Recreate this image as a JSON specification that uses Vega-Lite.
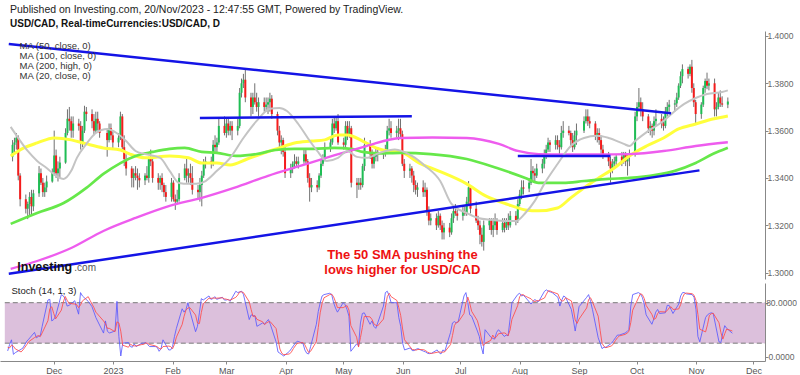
{
"$schema": "https://vega.github.io/schema/vega-lite/v6.json",
"background": "white",
"padding": {"left": 0, "right": 0, "top": 4, "bottom": 0},
"config": {"view": {"stroke": null}, "font": "Liberation Sans", "axis": {"grid": false}},
"title": {"text": "Published on Investing.com, 20/Nov/2023 - 12:47:55 GMT, Powered by TradingView.", "subtitle": "USD/CAD, Real-timeCurrencies:USD/CAD, D", "anchor": "start", "dx": 10, "fontSize": 10.5, "fontWeight": "normal", "color": "#222", "subtitleFontSize": 10, "subtitleFontWeight": "bold", "subtitleColor": "#111", "subtitlePadding": 4, "offset": 2, "font": "Liberation Sans", "subtitleFont": "Liberation Sans"},
"resolve": {"scale": {"stroke": "independent", "fill": "independent", "strokeWidth": "independent", "x": "independent", "y": "independent"}, "legend": {"stroke": "independent"}},
"datasets": {
"px": [
{"d":"2022-11-07","o":1.3490,"h":1.3560,"l":1.3470,"c":1.3540,"k":8.5,"s":14},
{"d":"2022-11-08","o":1.3540,"h":1.3570,"l":1.3500,"c":1.3550,"k":18,"s":13},
{"d":"2022-11-09","o":1.3550,"h":1.3590,"l":1.3520,"c":1.3570,"k":25,"s":17},
{"d":"2022-11-10","o":1.3570,"h":1.3580,"l":1.3390,"c":1.3410,"k":3.5,"s":15.5},
{"d":"2022-11-11","o":1.3410,"h":1.3420,"l":1.3280,"c":1.3310,"k":6,"s":11.5},
{"d":"2022-11-14","o":1.3310,"h":1.3330,"l":1.3250,"c":1.3270,"k":11,"s":7},
{"d":"2022-11-15","o":1.3270,"h":1.3300,"l":1.3226,"c":1.3290,"k":13,"s":10},
{"d":"2022-11-16","o":1.3290,"h":1.3340,"l":1.3235,"c":1.3320,"k":18,"s":14},
{"d":"2022-11-17","o":1.3320,"h":1.3350,"l":1.3240,"c":1.3280,"k":23,"s":18},
{"d":"2022-11-18","o":1.3280,"h":1.3350,"l":1.3260,"c":1.3335,"k":26,"s":22.3},
{"d":"2022-11-21","o":1.3335,"h":1.3450,"l":1.3320,"c":1.3420,"k":36,"s":28.3},
{"d":"2022-11-22","o":1.3420,"h":1.3440,"l":1.3370,"c":1.3380,"k":28,"s":30},
{"d":"2022-11-23","o":1.3380,"h":1.3400,"l":1.3320,"c":1.3340,"k":30,"s":31.3},
{"d":"2022-11-24","o":1.3340,"h":1.3380,"l":1.3320,"c":1.3360,"k":31,"s":29.7},
{"d":"2022-11-25","o":1.3360,"h":1.3410,"l":1.3340,"c":1.3385,"k":45,"s":35.3},
{"d":"2022-11-28","o":1.3385,"h":1.3440,"l":1.3380,"c":1.3425,"k":84,"s":53.3},
{"d":"2022-11-29","o":1.3425,"h":1.3600,"l":1.3410,"c":1.3495,"k":85,"s":71.3},
{"d":"2022-11-30","o":1.3495,"h":1.3520,"l":1.3400,"c":1.3420,"k":53,"s":74},
{"d":"2022-12-01","o":1.3420,"h":1.3470,"l":1.3385,"c":1.3440,"k":55,"s":64.3},
{"d":"2022-12-02","o":1.3440,"h":1.3490,"l":1.3400,"c":1.3465,"k":60,"s":56},
{"d":"2022-12-05","o":1.3465,"h":1.3610,"l":1.3460,"c":1.3590,"k":92,"s":69},
{"d":"2022-12-06","o":1.3590,"h":1.3690,"l":1.3580,"c":1.3650,"k":90,"s":80.7},
{"d":"2022-12-07","o":1.3650,"h":1.3700,"l":1.3600,"c":1.3640,"k":86,"s":89.3},
{"d":"2022-12-08","o":1.3640,"h":1.3660,"l":1.3570,"c":1.3600,"k":75,"s":83.7},
{"d":"2022-12-09","o":1.3600,"h":1.3660,"l":1.3570,"c":1.3630,"k":76,"s":79},
{"d":"2022-12-12","o":1.3630,"h":1.3650,"l":1.3600,"c":1.3620,"k":83,"s":78},
{"d":"2022-12-13","o":1.3620,"h":1.3640,"l":1.3520,"c":1.3550,"k":72,"s":77},
{"d":"2022-12-14","o":1.3550,"h":1.3620,"l":1.3530,"c":1.3600,"k":63,"s":72.7},
{"d":"2022-12-15","o":1.3600,"h":1.3705,"l":1.3590,"c":1.3680,"k":95,"s":76.7},
{"d":"2022-12-16","o":1.3680,"h":1.3700,"l":1.3640,"c":1.3670,"k":90,"s":82.7},
{"d":"2022-12-19","o":1.3670,"h":1.3690,"l":1.3610,"c":1.3640,"k":82,"s":89},
{"d":"2022-12-20","o":1.3640,"h":1.3670,"l":1.3580,"c":1.3600,"k":78,"s":83.3},
{"d":"2022-12-21","o":1.3600,"h":1.3680,"l":1.3590,"c":1.3650,"k":74,"s":78},
{"d":"2022-12-22","o":1.3650,"h":1.3680,"l":1.3600,"c":1.3630,"k":66,"s":72.7},
{"d":"2022-12-23","o":1.3630,"h":1.3640,"l":1.3570,"c":1.3590,"k":58,"s":66},
{"d":"2022-12-27","o":1.3590,"h":1.3610,"l":1.3490,"c":1.3560,"k":35,"s":53},
{"d":"2022-12-28","o":1.3560,"h":1.3630,"l":1.3550,"c":1.3610,"k":53,"s":48.7},
{"d":"2022-12-29","o":1.3610,"h":1.3630,"l":1.3560,"c":1.3580,"k":38,"s":42},
{"d":"2022-12-30","o":1.3580,"h":1.3600,"l":1.3520,"c":1.3550,"k":35,"s":42},
{"d":"2023-01-02","o":1.3550,"h":1.3590,"l":1.3530,"c":1.3570,"k":38,"s":37},
{"d":"2023-01-03","o":1.3570,"h":1.3680,"l":1.3560,"c":1.3660,"k":82,"s":51.7},
{"d":"2023-01-04","o":1.3660,"h":1.3670,"l":1.3520,"c":1.3530,"k":30,"s":50},
{"d":"2023-01-05","o":1.3530,"h":1.3580,"l":1.3450,"c":1.3480,"k":1,"s":37.7},
{"d":"2023-01-06","o":1.3480,"h":1.3500,"l":1.3410,"c":1.3440,"k":20,"s":17},
{"d":"2023-01-09","o":1.3440,"h":1.3450,"l":1.3360,"c":1.3400,"k":21,"s":14},
{"d":"2023-01-10","o":1.3400,"h":1.3440,"l":1.3360,"c":1.3420,"k":15,"s":18.7},
{"d":"2023-01-11","o":1.3420,"h":1.3450,"l":1.3390,"c":1.3410,"k":14,"s":16.7},
{"d":"2023-01-12","o":1.3410,"h":1.3440,"l":1.3350,"c":1.3400,"k":19,"s":16},
{"d":"2023-01-13","o":1.3400,"h":1.3420,"l":1.3360,"c":1.3390,"k":15,"s":16},
{"d":"2023-01-16","o":1.3390,"h":1.3420,"l":1.3370,"c":1.3410,"k":20,"s":18},
{"d":"2023-01-17","o":1.3410,"h":1.3450,"l":1.3390,"c":1.3400,"k":20,"s":18.3},
{"d":"2023-01-18","o":1.3400,"h":1.3490,"l":1.3380,"c":1.3480,"k":21,"s":20.3},
{"d":"2023-01-19","o":1.3480,"h":1.3520,"l":1.3450,"c":1.3470,"k":18,"s":19.7},
{"d":"2023-01-20","o":1.3470,"h":1.3490,"l":1.3380,"c":1.3400,"k":15,"s":18},
{"d":"2023-01-23","o":1.3400,"h":1.3420,"l":1.3350,"c":1.3380,"k":15,"s":16},
{"d":"2023-01-24","o":1.3380,"h":1.3410,"l":1.3350,"c":1.3400,"k":14,"s":14.7},
{"d":"2023-01-25","o":1.3400,"h":1.3420,"l":1.3340,"c":1.3370,"k":8,"s":12.3},
{"d":"2023-01-26","o":1.3370,"h":1.3380,"l":1.3320,"c":1.3340,"k":12,"s":11.3},
{"d":"2023-01-27","o":1.3340,"h":1.3370,"l":1.3300,"c":1.3320,"k":25,"s":15},
{"d":"2023-01-30","o":1.3320,"h":1.3400,"l":1.3300,"c":1.3380,"k":10,"s":15.7},
{"d":"2023-01-31","o":1.3380,"h":1.3390,"l":1.3300,"c":1.3310,"k":10,"s":15},
{"d":"2023-02-01","o":1.3310,"h":1.3330,"l":1.3265,"c":1.3300,"k":15,"s":11.7},
{"d":"2023-02-02","o":1.3300,"h":1.3350,"l":1.3290,"c":1.3310,"k":30,"s":18.3},
{"d":"2023-02-03","o":1.3310,"h":1.3420,"l":1.3300,"c":1.3400,"k":42,"s":29},
{"d":"2023-02-06","o":1.3400,"h":1.3460,"l":1.3390,"c":1.3440,"k":71,"s":47.7},
{"d":"2023-02-07","o":1.3440,"h":1.3480,"l":1.3380,"c":1.3410,"k":66,"s":59.7},
{"d":"2023-02-08","o":1.3410,"h":1.3440,"l":1.3380,"c":1.3420,"k":70,"s":69},
{"d":"2023-02-09","o":1.3420,"h":1.3460,"l":1.3370,"c":1.3400,"k":80,"s":72},
{"d":"2023-02-10","o":1.3400,"h":1.3450,"l":1.3330,"c":1.3350,"k":68,"s":72.7},
{"d":"2023-02-13","o":1.3350,"h":1.3370,"l":1.3310,"c":1.3340,"k":37,"s":61.7},
{"d":"2023-02-14","o":1.3340,"h":1.3400,"l":1.3300,"c":1.3370,"k":45,"s":50},
{"d":"2023-02-15","o":1.3370,"h":1.3430,"l":1.3280,"c":1.3410,"k":65,"s":49},
{"d":"2023-02-16","o":1.3410,"h":1.3480,"l":1.3400,"c":1.3460,"k":86,"s":65.3},
{"d":"2023-02-17","o":1.3460,"h":1.3490,"l":1.3440,"c":1.3470,"k":84,"s":78.3},
{"d":"2023-02-20","o":1.3470,"h":1.3490,"l":1.3440,"c":1.3460,"k":90,"s":86.7},
{"d":"2023-02-21","o":1.3460,"h":1.3560,"l":1.3450,"c":1.3540,"k":85,"s":86.3},
{"d":"2023-02-22","o":1.3540,"h":1.3580,"l":1.3510,"c":1.3530,"k":86,"s":87},
{"d":"2023-02-23","o":1.3530,"h":1.3570,"l":1.3510,"c":1.3550,"k":89,"s":86.7},
{"d":"2023-02-24","o":1.3550,"h":1.3650,"l":1.3540,"c":1.3620,"k":85,"s":86.7},
{"d":"2023-02-27","o":1.3620,"h":1.3660,"l":1.3580,"c":1.3590,"k":88,"s":87.3},
{"d":"2023-02-28","o":1.3590,"h":1.3650,"l":1.3570,"c":1.3630,"k":84,"s":85.7},
{"d":"2023-03-01","o":1.3630,"h":1.3650,"l":1.3580,"c":1.3600,"k":84,"s":85.3},
{"d":"2023-03-02","o":1.3600,"h":1.3640,"l":1.3580,"c":1.3620,"k":85,"s":84.3},
{"d":"2023-03-03","o":1.3620,"h":1.3640,"l":1.3560,"c":1.3600,"k":82,"s":83.7},
{"d":"2023-03-06","o":1.3600,"h":1.3650,"l":1.3580,"c":1.3620,"k":97,"s":88},
{"d":"2023-03-07","o":1.3620,"h":1.3780,"l":1.3610,"c":1.3760,"k":95,"s":91.3},
{"d":"2023-03-08","o":1.3760,"h":1.3820,"l":1.3740,"c":1.3800,"k":96,"s":96},
{"d":"2023-03-09","o":1.3800,"h":1.3840,"l":1.3780,"c":1.3815,"k":97,"s":96},
{"d":"2023-03-10","o":1.3815,"h":1.3860,"l":1.3720,"c":1.3740,"k":92,"s":95},
{"d":"2023-03-13","o":1.3740,"h":1.3760,"l":1.3660,"c":1.3700,"k":55,"s":81.3},
{"d":"2023-03-14","o":1.3700,"h":1.3760,"l":1.3670,"c":1.3740,"k":62,"s":69.7},
{"d":"2023-03-15","o":1.3740,"h":1.3800,"l":1.3710,"c":1.3720,"k":61,"s":59.3},
{"d":"2023-03-16","o":1.3720,"h":1.3760,"l":1.3680,"c":1.3700,"k":60,"s":61},
{"d":"2023-03-17","o":1.3700,"h":1.3740,"l":1.3660,"c":1.3720,"k":45,"s":55.3},
{"d":"2023-03-20","o":1.3720,"h":1.3740,"l":1.3680,"c":1.3700,"k":50,"s":51.7},
{"d":"2023-03-21","o":1.3700,"h":1.3740,"l":1.3680,"c":1.3710,"k":48,"s":47.7},
{"d":"2023-03-22","o":1.3710,"h":1.3740,"l":1.3670,"c":1.3720,"k":52,"s":50},
{"d":"2023-03-23","o":1.3720,"h":1.3760,"l":1.3680,"c":1.3735,"k":55,"s":51.7},
{"d":"2023-03-24","o":1.3735,"h":1.3750,"l":1.3650,"c":1.3670,"k":48,"s":51.7},
{"d":"2023-03-27","o":1.3670,"h":1.3680,"l":1.3580,"c":1.3600,"k":22,"s":41.7},
{"d":"2023-03-28","o":1.3600,"h":1.3620,"l":1.3530,"c":1.3550,"k":7,"s":25.7},
{"d":"2023-03-29","o":1.3550,"h":1.3580,"l":1.3500,"c":1.3560,"k":5,"s":11.3},
{"d":"2023-03-30","o":1.3560,"h":1.3570,"l":1.3490,"c":1.3510,"k":3,"s":5},
{"d":"2023-03-31","o":1.3510,"h":1.3530,"l":1.3400,"c":1.3420,"k":1,"s":3},
{"d":"2023-04-03","o":1.3420,"h":1.3460,"l":1.3400,"c":1.3440,"k":8,"s":4},
{"d":"2023-04-04","o":1.3440,"h":1.3470,"l":1.3420,"c":1.3460,"k":12,"s":7},
{"d":"2023-04-05","o":1.3460,"h":1.3500,"l":1.3440,"c":1.3470,"k":16,"s":12},
{"d":"2023-04-06","o":1.3470,"h":1.3490,"l":1.3450,"c":1.3460,"k":20,"s":16},
{"d":"2023-04-07","o":1.3460,"h":1.3490,"l":1.3440,"c":1.3470,"k":23,"s":19.7},
{"d":"2023-04-10","o":1.3470,"h":1.3520,"l":1.3460,"c":1.3500,"k":20,"s":21},
{"d":"2023-04-11","o":1.3500,"h":1.3520,"l":1.3460,"c":1.3470,"k":10,"s":17.7},
{"d":"2023-04-12","o":1.3470,"h":1.3480,"l":1.3380,"c":1.3400,"k":5,"s":11.7},
{"d":"2023-04-13","o":1.3400,"h":1.3420,"l":1.3300,"c":1.3360,"k":4,"s":6.3},
{"d":"2023-04-14","o":1.3360,"h":1.3400,"l":1.3340,"c":1.3370,"k":15,"s":8},
{"d":"2023-04-17","o":1.3370,"h":1.3390,"l":1.3340,"c":1.3360,"k":48,"s":22.3},
{"d":"2023-04-18","o":1.3360,"h":1.3420,"l":1.3350,"c":1.3410,"k":67,"s":43.3},
{"d":"2023-04-19","o":1.3410,"h":1.3480,"l":1.3400,"c":1.3460,"k":80,"s":65},
{"d":"2023-04-20","o":1.3460,"h":1.3500,"l":1.3450,"c":1.3480,"k":90,"s":79},
{"d":"2023-04-21","o":1.3480,"h":1.3550,"l":1.3470,"c":1.3530,"k":92,"s":87.3},
{"d":"2023-04-24","o":1.3530,"h":1.3570,"l":1.3510,"c":1.3550,"k":94,"s":92},
{"d":"2023-04-25","o":1.3550,"h":1.3650,"l":1.3540,"c":1.3630,"k":92,"s":92.7},
{"d":"2023-04-26","o":1.3630,"h":1.3660,"l":1.3590,"c":1.3610,"k":80,"s":88.7},
{"d":"2023-04-27","o":1.3610,"h":1.3660,"l":1.3600,"c":1.3640,"k":72,"s":81.3},
{"d":"2023-04-28","o":1.3640,"h":1.3670,"l":1.3540,"c":1.3550,"k":66,"s":72.7},
{"d":"2023-05-01","o":1.3550,"h":1.3570,"l":1.3520,"c":1.3540,"k":80,"s":72.7},
{"d":"2023-05-02","o":1.3540,"h":1.3640,"l":1.3530,"c":1.3620,"k":77,"s":74.3},
{"d":"2023-05-03","o":1.3620,"h":1.3640,"l":1.3560,"c":1.3580,"k":70,"s":75.7},
{"d":"2023-05-04","o":1.3580,"h":1.3640,"l":1.3570,"c":1.3610,"k":60,"s":69},
{"d":"2023-05-05","o":1.3610,"h":1.3620,"l":1.3360,"c":1.3380,"k":8,"s":46},
{"d":"2023-05-08","o":1.3380,"h":1.3400,"l":1.3315,"c":1.3370,"k":19,"s":29},
{"d":"2023-05-09","o":1.3370,"h":1.3400,"l":1.3350,"c":1.3380,"k":16,"s":14.3},
{"d":"2023-05-10","o":1.3380,"h":1.3400,"l":1.3350,"c":1.3370,"k":50,"s":28.3},
{"d":"2023-05-11","o":1.3370,"h":1.3460,"l":1.3360,"c":1.3450,"k":64,"s":43.3},
{"d":"2023-05-12","o":1.3450,"h":1.3570,"l":1.3430,"c":1.3540,"k":65,"s":59.7},
{"d":"2023-05-15","o":1.3540,"h":1.3560,"l":1.3480,"c":1.3500,"k":48,"s":59},
{"d":"2023-05-16","o":1.3500,"h":1.3520,"l":1.3440,"c":1.3460,"k":53,"s":55.3},
{"d":"2023-05-17","o":1.3460,"h":1.3510,"l":1.3440,"c":1.3490,"k":45,"s":48.7},
{"d":"2023-05-18","o":1.3490,"h":1.3530,"l":1.3470,"c":1.3510,"k":42,"s":46.7},
{"d":"2023-05-19","o":1.3510,"h":1.3530,"l":1.3470,"c":1.3500,"k":50,"s":45.7},
{"d":"2023-05-22","o":1.3500,"h":1.3520,"l":1.3480,"c":1.3510,"k":75,"s":55.7},
{"d":"2023-05-23","o":1.3510,"h":1.3540,"l":1.3490,"c":1.3520,"k":95,"s":73.3},
{"d":"2023-05-24","o":1.3520,"h":1.3620,"l":1.3510,"c":1.3600,"k":97,"s":89},
{"d":"2023-05-25","o":1.3600,"h":1.3650,"l":1.3580,"c":1.3610,"k":90,"s":94},
{"d":"2023-05-26","o":1.3610,"h":1.3640,"l":1.3570,"c":1.3590,"k":80,"s":89},
{"d":"2023-05-29","o":1.3590,"h":1.3620,"l":1.3570,"c":1.3600,"k":80,"s":83.3},
{"d":"2023-05-30","o":1.3600,"h":1.3650,"l":1.3560,"c":1.3610,"k":58,"s":72.7},
{"d":"2023-05-31","o":1.3610,"h":1.3650,"l":1.3570,"c":1.3585,"k":45,"s":61},
{"d":"2023-06-01","o":1.3585,"h":1.3600,"l":1.3450,"c":1.3460,"k":20,"s":41},
{"d":"2023-06-02","o":1.3460,"h":1.3480,"l":1.3400,"c":1.3430,"k":10,"s":25},
{"d":"2023-06-05","o":1.3430,"h":1.3460,"l":1.3400,"c":1.3440,"k":13,"s":14.3},
{"d":"2023-06-06","o":1.3440,"h":1.3450,"l":1.3380,"c":1.3410,"k":9,"s":10.7},
{"d":"2023-06-07","o":1.3410,"h":1.3430,"l":1.3340,"c":1.3370,"k":9,"s":10.3},
{"d":"2023-06-08","o":1.3370,"h":1.3390,"l":1.3330,"c":1.3350,"k":11,"s":9.7},
{"d":"2023-06-09","o":1.3350,"h":1.3380,"l":1.3320,"c":1.3360,"k":12,"s":10.7},
{"d":"2023-06-12","o":1.3360,"h":1.3390,"l":1.3320,"c":1.3340,"k":8,"s":10.3},
{"d":"2023-06-13","o":1.3340,"h":1.3380,"l":1.3320,"c":1.3350,"k":7,"s":9},
{"d":"2023-06-14","o":1.3350,"h":1.3360,"l":1.3240,"c":1.3260,"k":5,"s":6.7},
{"d":"2023-06-15","o":1.3260,"h":1.3280,"l":1.3200,"c":1.3220,"k":4.5,"s":5.5},
{"d":"2023-06-16","o":1.3220,"h":1.3250,"l":1.3200,"c":1.3230,"k":5,"s":4.8},
{"d":"2023-06-19","o":1.3230,"h":1.3250,"l":1.3180,"c":1.3200,"k":10,"s":6.5},
{"d":"2023-06-20","o":1.3200,"h":1.3260,"l":1.3190,"c":1.3240,"k":6,"s":7},
{"d":"2023-06-21","o":1.3240,"h":1.3250,"l":1.3180,"c":1.3200,"k":4,"s":6.7},
{"d":"2023-06-22","o":1.3200,"h":1.3220,"l":1.3140,"c":1.3170,"k":10,"s":6.7},
{"d":"2023-06-23","o":1.3170,"h":1.3210,"l":1.3140,"c":1.3190,"k":8,"s":7.3},
{"d":"2023-06-26","o":1.3190,"h":1.3210,"l":1.3150,"c":1.3170,"k":36,"s":18},
{"d":"2023-06-27","o":1.3170,"h":1.3250,"l":1.3160,"c":1.3230,"k":50,"s":31.3},
{"d":"2023-06-28","o":1.3230,"h":1.3280,"l":1.3210,"c":1.3260,"k":52,"s":46},
{"d":"2023-06-29","o":1.3260,"h":1.3290,"l":1.3240,"c":1.3250,"k":50,"s":50.7},
{"d":"2023-06-30","o":1.3250,"h":1.3270,"l":1.3220,"c":1.3240,"k":52,"s":51.3},
{"d":"2023-07-03","o":1.3240,"h":1.3280,"l":1.3220,"c":1.3260,"k":90,"s":64},
{"d":"2023-07-04","o":1.3260,"h":1.3280,"l":1.3240,"c":1.3250,"k":95,"s":79},
{"d":"2023-07-05","o":1.3250,"h":1.3320,"l":1.3240,"c":1.3300,"k":80,"s":88.3},
{"d":"2023-07-06","o":1.3300,"h":1.3387,"l":1.3290,"c":1.3360,"k":62,"s":79},
{"d":"2023-07-07","o":1.3360,"h":1.3370,"l":1.3250,"c":1.3270,"k":60,"s":67.3},
{"d":"2023-07-10","o":1.3270,"h":1.3300,"l":1.3210,"c":1.3220,"k":38,"s":53.3},
{"d":"2023-07-11","o":1.3220,"h":1.3240,"l":1.3180,"c":1.3200,"k":30,"s":42.7},
{"d":"2023-07-12","o":1.3200,"h":1.3220,"l":1.3120,"c":1.3160,"k":15,"s":27.7},
{"d":"2023-07-13","o":1.3160,"h":1.3190,"l":1.3110,"c":1.3130,"k":4,"s":16.3},
{"d":"2023-07-14","o":1.3130,"h":1.3220,"l":1.3093,"c":1.3200,"k":40,"s":19.7},
{"d":"2023-07-17","o":1.3200,"h":1.3230,"l":1.3180,"c":1.3220,"k":29,"s":24.3},
{"d":"2023-07-18","o":1.3220,"h":1.3230,"l":1.3160,"c":1.3180,"k":27,"s":32},
{"d":"2023-07-19","o":1.3180,"h":1.3230,"l":1.3150,"c":1.3200,"k":26,"s":27.3},
{"d":"2023-07-20","o":1.3200,"h":1.3250,"l":1.3180,"c":1.3220,"k":36,"s":29.7},
{"d":"2023-07-21","o":1.3220,"h":1.3230,"l":1.3160,"c":1.3180,"k":40,"s":34},
{"d":"2023-07-24","o":1.3180,"h":1.3230,"l":1.3170,"c":1.3210,"k":30,"s":35.3},
{"d":"2023-07-25","o":1.3210,"h":1.3230,"l":1.3170,"c":1.3190,"k":32,"s":34},
{"d":"2023-07-26","o":1.3190,"h":1.3230,"l":1.3180,"c":1.3220,"k":31,"s":31},
{"d":"2023-07-27","o":1.3220,"h":1.3250,"l":1.3180,"c":1.3200,"k":55,"s":39.3},
{"d":"2023-07-28","o":1.3200,"h":1.3260,"l":1.3190,"c":1.3240,"k":80,"s":55.3},
{"d":"2023-07-31","o":1.3240,"h":1.3260,"l":1.3200,"c":1.3220,"k":92,"s":75.7},
{"d":"2023-08-01","o":1.3220,"h":1.3310,"l":1.3210,"c":1.3290,"k":94,"s":88.7},
{"d":"2023-08-02","o":1.3290,"h":1.3350,"l":1.3280,"c":1.3330,"k":90,"s":92},
{"d":"2023-08-03","o":1.3330,"h":1.3390,"l":1.3310,"c":1.3360,"k":91,"s":91.7},
{"d":"2023-08-04","o":1.3360,"h":1.3390,"l":1.3330,"c":1.3355,"k":88,"s":89.7},
{"d":"2023-08-07","o":1.3355,"h":1.3400,"l":1.3340,"c":1.3380,"k":78,"s":85.7},
{"d":"2023-08-08","o":1.3380,"h":1.3480,"l":1.3370,"c":1.3430,"k":82,"s":82.7},
{"d":"2023-08-09","o":1.3430,"h":1.3450,"l":1.3390,"c":1.3420,"k":85,"s":81.7},
{"d":"2023-08-10","o":1.3420,"h":1.3440,"l":1.3380,"c":1.3410,"k":82,"s":83},
{"d":"2023-08-11","o":1.3410,"h":1.3460,"l":1.3400,"c":1.3440,"k":82,"s":83},
{"d":"2023-08-14","o":1.3440,"h":1.3480,"l":1.3420,"c":1.3460,"k":97,"s":87},
{"d":"2023-08-15","o":1.3460,"h":1.3520,"l":1.3440,"c":1.3500,"k":99,"s":92.7},
{"d":"2023-08-16","o":1.3500,"h":1.3540,"l":1.3480,"c":1.3520,"k":97,"s":97.7},
{"d":"2023-08-17","o":1.3520,"h":1.3570,"l":1.3510,"c":1.3550,"k":96,"s":97.3},
{"d":"2023-08-18","o":1.3550,"h":1.3560,"l":1.3510,"c":1.3540,"k":95,"s":96},
{"d":"2023-08-21","o":1.3540,"h":1.3580,"l":1.3520,"c":1.3560,"k":88,"s":93},
{"d":"2023-08-22","o":1.3560,"h":1.3580,"l":1.3520,"c":1.3540,"k":75,"s":86},
{"d":"2023-08-23","o":1.3540,"h":1.3560,"l":1.3500,"c":1.3530,"k":84,"s":82.3},
{"d":"2023-08-24","o":1.3530,"h":1.3620,"l":1.3520,"c":1.3590,"k":90,"s":83},
{"d":"2023-08-25","o":1.3590,"h":1.3640,"l":1.3570,"c":1.3600,"k":88,"s":87.3},
{"d":"2023-08-28","o":1.3600,"h":1.3620,"l":1.3580,"c":1.3590,"k":70,"s":82.7},
{"d":"2023-08-29","o":1.3590,"h":1.3600,"l":1.3530,"c":1.3560,"k":55,"s":71},
{"d":"2023-08-30","o":1.3560,"h":1.3590,"l":1.3510,"c":1.3530,"k":38,"s":54.3},
{"d":"2023-08-31","o":1.3530,"h":1.3600,"l":1.3520,"c":1.3580,"k":55,"s":49.3},
{"d":"2023-09-01","o":1.3580,"h":1.3630,"l":1.3540,"c":1.3600,"k":74,"s":55.7},
{"d":"2023-09-05","o":1.3600,"h":1.3660,"l":1.3590,"c":1.3640,"k":88,"s":72.3},
{"d":"2023-09-06","o":1.3640,"h":1.3690,"l":1.3630,"c":1.3660,"k":92,"s":84.7},
{"d":"2023-09-07","o":1.3660,"h":1.3690,"l":1.3620,"c":1.3640,"k":82,"s":87.3},
{"d":"2023-09-08","o":1.3640,"h":1.3660,"l":1.3610,"c":1.3630,"k":70,"s":81.3},
{"d":"2023-09-11","o":1.3630,"h":1.3640,"l":1.3560,"c":1.3580,"k":28,"s":60},
{"d":"2023-09-12","o":1.3580,"h":1.3610,"l":1.3550,"c":1.3590,"k":20,"s":39.3},
{"d":"2023-09-13","o":1.3590,"h":1.3610,"l":1.3540,"c":1.3560,"k":12,"s":20},
{"d":"2023-09-14","o":1.3560,"h":1.3580,"l":1.3500,"c":1.3520,"k":14,"s":15.3},
{"d":"2023-09-15","o":1.3520,"h":1.3540,"l":1.3480,"c":1.3500,"k":14,"s":13.3},
{"d":"2023-09-18","o":1.3500,"h":1.3510,"l":1.3450,"c":1.3470,"k":20,"s":16},
{"d":"2023-09-19","o":1.3470,"h":1.3490,"l":1.3380,"c":1.3440,"k":24,"s":19.3},
{"d":"2023-09-20","o":1.3440,"h":1.3480,"l":1.3420,"c":1.3460,"k":28,"s":24},
{"d":"2023-09-21","o":1.3460,"h":1.3490,"l":1.3440,"c":1.3470,"k":32,"s":28},
{"d":"2023-09-22","o":1.3470,"h":1.3500,"l":1.3450,"c":1.3490,"k":32,"s":30.7},
{"d":"2023-09-25","o":1.3490,"h":1.3510,"l":1.3450,"c":1.3470,"k":35,"s":33},
{"d":"2023-09-26","o":1.3470,"h":1.3510,"l":1.3460,"c":1.3500,"k":37,"s":34.7},
{"d":"2023-09-27","o":1.3500,"h":1.3510,"l":1.3450,"c":1.3470,"k":40,"s":37.3},
{"d":"2023-09-28","o":1.3470,"h":1.3500,"l":1.3410,"c":1.3490,"k":75,"s":50.7},
{"d":"2023-09-29","o":1.3490,"h":1.3520,"l":1.3450,"c":1.3500,"k":92,"s":69},
{"d":"2023-10-02","o":1.3500,"h":1.3680,"l":1.3490,"c":1.3660,"k":95,"s":87.3},
{"d":"2023-10-03","o":1.3660,"h":1.3720,"l":1.3640,"c":1.3700,"k":93,"s":93.3},
{"d":"2023-10-04","o":1.3700,"h":1.3780,"l":1.3680,"c":1.3720,"k":88,"s":92},
{"d":"2023-10-05","o":1.3720,"h":1.3740,"l":1.3660,"c":1.3690,"k":78,"s":86.3},
{"d":"2023-10-06","o":1.3690,"h":1.3720,"l":1.3640,"c":1.3660,"k":62,"s":76},
{"d":"2023-10-09","o":1.3660,"h":1.3670,"l":1.3590,"c":1.3610,"k":48,"s":62.7},
{"d":"2023-10-10","o":1.3610,"h":1.3640,"l":1.3580,"c":1.3620,"k":56,"s":55.3},
{"d":"2023-10-11","o":1.3620,"h":1.3630,"l":1.3570,"c":1.3600,"k":66,"s":56.7},
{"d":"2023-10-12","o":1.3600,"h":1.3660,"l":1.3580,"c":1.3640,"k":70,"s":64},
{"d":"2023-10-13","o":1.3640,"h":1.3690,"l":1.3620,"c":1.3650,"k":64,"s":66.7},
{"d":"2023-10-16","o":1.3650,"h":1.3670,"l":1.3610,"c":1.3630,"k":65,"s":66.3},
{"d":"2023-10-17","o":1.3630,"h":1.3660,"l":1.3600,"c":1.3620,"k":76,"s":68.3},
{"d":"2023-10-18","o":1.3620,"h":1.3700,"l":1.3610,"c":1.3680,"k":76,"s":72.3},
{"d":"2023-10-19","o":1.3680,"h":1.3720,"l":1.3660,"c":1.3700,"k":70,"s":74},
{"d":"2023-10-20","o":1.3700,"h":1.3730,"l":1.3680,"c":1.3710,"k":64,"s":70},
{"d":"2023-10-23","o":1.3710,"h":1.3730,"l":1.3680,"c":1.3715,"k":78,"s":70.7},
{"d":"2023-10-24","o":1.3715,"h":1.3760,"l":1.3700,"c":1.3740,"k":90,"s":77.3},
{"d":"2023-10-25","o":1.3740,"h":1.3800,"l":1.3730,"c":1.3790,"k":95,"s":87.7},
{"d":"2023-10-26","o":1.3790,"h":1.3850,"l":1.3780,"c":1.3830,"k":95,"s":93.3},
{"d":"2023-10-27","o":1.3830,"h":1.3880,"l":1.3800,"c":1.3860,"k":93,"s":94.3},
{"d":"2023-10-30","o":1.3860,"h":1.3870,"l":1.3820,"c":1.3840,"k":92,"s":93.3},
{"d":"2023-10-31","o":1.3840,"h":1.3880,"l":1.3830,"c":1.3870,"k":88,"s":91},
{"d":"2023-11-01","o":1.3870,"h":1.3899,"l":1.3760,"c":1.3780,"k":70,"s":83.3},
{"d":"2023-11-02","o":1.3780,"h":1.3800,"l":1.3700,"c":1.3720,"k":30,"s":62.7},
{"d":"2023-11-03","o":1.3720,"h":1.3730,"l":1.3628,"c":1.3670,"k":22,"s":40.7},
{"d":"2023-11-06","o":1.3670,"h":1.3720,"l":1.3650,"c":1.3710,"k":58,"s":36.7},
{"d":"2023-11-07","o":1.3710,"h":1.3790,"l":1.3700,"c":1.3780,"k":62,"s":47.3},
{"d":"2023-11-08","o":1.3780,"h":1.3820,"l":1.3760,"c":1.3810,"k":64,"s":61.3},
{"d":"2023-11-09","o":1.3810,"h":1.3845,"l":1.3775,"c":1.3790,"k":65,"s":63.7},
{"d":"2023-11-10","o":1.3790,"h":1.3820,"l":1.3770,"c":1.3800,"k":64,"s":64.3},
{"d":"2023-11-13","o":1.3800,"h":1.3820,"l":1.3660,"c":1.3690,"k":22,"s":50.3},
{"d":"2023-11-14","o":1.3690,"h":1.3720,"l":1.3660,"c":1.3700,"k":21,"s":35.7},
{"d":"2023-11-15","o":1.3700,"h":1.3760,"l":1.3690,"c":1.3740,"k":35,"s":26},
{"d":"2023-11-16","o":1.3740,"h":1.3770,"l":1.3700,"c":1.3715,"k":46,"s":34},
{"d":"2023-11-17","o":1.3715,"h":1.3745,"l":1.3700,"c":1.3710,"k":42,"s":41},
{"d":"2023-11-20","o":1.3710,"h":1.3740,"l":1.3695,"c":1.3723,"k":34.7427,"s":38.0514}
],
"ma": [
{"s":"50","d":"2022-11-06","v":1.3493},{"s":"50","d":"2022-11-13","v":1.3527},{"s":"50","d":"2022-11-20","v":1.3548},{"s":"50","d":"2022-11-29","v":1.3569},{"s":"50","d":"2022-12-08","v":1.3561},{"s":"50","d":"2022-12-16","v":1.3544},{"s":"50","d":"2022-12-25","v":1.3527},{"s":"50","d":"2023-01-03","v":1.3518},{"s":"50","d":"2023-01-08","v":1.3501},{"s":"50","d":"2023-01-16","v":1.3485},{"s":"50","d":"2023-01-29","v":1.3493},{"s":"50","d":"2023-02-08","v":1.3485},{"s":"50","d":"2023-02-15","v":1.3463},{"s":"50","d":"2023-02-23","v":1.3463},{"s":"50","d":"2023-03-02","v":1.3455},{"s":"50","d":"2023-03-11","v":1.3480},{"s":"50","d":"2023-03-20","v":1.3506},{"s":"50","d":"2023-03-28","v":1.3527},{"s":"50","d":"2023-04-05","v":1.3548},{"s":"50","d":"2023-04-14","v":1.3556},{"s":"50","d":"2023-04-21","v":1.3561},{"s":"50","d":"2023-04-28","v":1.3582},{"s":"50","d":"2023-05-03","v":1.3582},{"s":"50","d":"2023-05-11","v":1.3556},{"s":"50","d":"2023-05-18","v":1.3527},{"s":"50","d":"2023-05-24","v":1.3514},{"s":"50","d":"2023-05-31","v":1.3510},{"s":"50","d":"2023-06-10","v":1.3463},{"s":"50","d":"2023-06-20","v":1.3430},{"s":"50","d":"2023-07-05","v":1.3375},{"s":"50","d":"2023-07-15","v":1.3324},{"s":"50","d":"2023-07-26","v":1.3290},{"s":"50","d":"2023-08-05","v":1.3265},{"s":"50","d":"2023-08-12","v":1.3261},{"s":"50","d":"2023-08-22","v":1.3273},{"s":"50","d":"2023-08-29","v":1.3316},{"s":"50","d":"2023-09-05","v":1.3358},{"s":"50","d":"2023-09-12","v":1.3396},{"s":"50","d":"2023-09-21","v":1.3442},{"s":"50","d":"2023-09-29","v":1.3493},{"s":"50","d":"2023-10-08","v":1.3535},{"s":"50","d":"2023-10-17","v":1.3569},{"s":"50","d":"2023-10-25","v":1.3607},{"s":"50","d":"2023-11-03","v":1.3628},{"s":"50","d":"2023-11-12","v":1.3649},{"s":"50","d":"2023-11-20","v":1.3662},
{"s":"100","d":"2022-11-06","v":1.3206},{"s":"100","d":"2022-11-20","v":1.3252},{"s":"100","d":"2022-12-04","v":1.3294},{"s":"100","d":"2022-12-16","v":1.3358},{"s":"100","d":"2022-12-25","v":1.3417},{"s":"100","d":"2023-01-03","v":1.3463},{"s":"100","d":"2023-01-11","v":1.3493},{"s":"100","d":"2023-01-20","v":1.3510},{"s":"100","d":"2023-01-29","v":1.3523},{"s":"100","d":"2023-02-06","v":1.3527},{"s":"100","d":"2023-02-15","v":1.3510},{"s":"100","d":"2023-02-23","v":1.3506},{"s":"100","d":"2023-03-05","v":1.3493},{"s":"100","d":"2023-03-16","v":1.3501},{"s":"100","d":"2023-03-26","v":1.3518},{"s":"100","d":"2023-04-05","v":1.3523},{"s":"100","d":"2023-04-15","v":1.3523},{"s":"100","d":"2023-04-26","v":1.3527},{"s":"100","d":"2023-05-05","v":1.3523},{"s":"100","d":"2023-05-11","v":1.3510},{"s":"100","d":"2023-05-19","v":1.3504},{"s":"100","d":"2023-05-31","v":1.3506},{"s":"100","d":"2023-06-16","v":1.3501},{"s":"100","d":"2023-07-05","v":1.3480},{"s":"100","d":"2023-07-21","v":1.3442},{"s":"100","d":"2023-08-05","v":1.3400},{"s":"100","d":"2023-08-12","v":1.3379},{"s":"100","d":"2023-08-25","v":1.3379},{"s":"100","d":"2023-09-05","v":1.3387},{"s":"100","d":"2023-09-18","v":1.3396},{"s":"100","d":"2023-09-29","v":1.3400},{"s":"100","d":"2023-10-13","v":1.3413},{"s":"100","d":"2023-10-23","v":1.3430},{"s":"100","d":"2023-11-03","v":1.3463},{"s":"100","d":"2023-11-12","v":1.3501},{"s":"100","d":"2023-11-20","v":1.3528},
{"s":"200","d":"2022-11-06","v":1.3016},{"s":"200","d":"2022-11-20","v":1.3049},{"s":"200","d":"2022-12-08","v":1.3104},{"s":"200","d":"2022-12-25","v":1.3176},{"s":"200","d":"2023-01-11","v":1.3231},{"s":"200","d":"2023-01-29","v":1.3282},{"s":"200","d":"2023-02-15","v":1.3316},{"s":"200","d":"2023-03-04","v":1.3358},{"s":"200","d":"2023-03-22","v":1.3409},{"s":"200","d":"2023-04-08","v":1.3451},{"s":"200","d":"2023-04-25","v":1.3493},{"s":"200","d":"2023-05-13","v":1.3535},{"s":"200","d":"2023-05-31","v":1.3569},{"s":"200","d":"2023-06-17","v":1.3571},{"s":"200","d":"2023-07-05","v":1.3569},{"s":"200","d":"2023-07-22","v":1.3544},{"s":"200","d":"2023-08-01","v":1.3514},{"s":"200","d":"2023-08-12","v":1.3501},{"s":"200","d":"2023-08-26","v":1.3499},{"s":"200","d":"2023-09-12","v":1.3499},{"s":"200","d":"2023-09-29","v":1.3501},{"s":"200","d":"2023-10-17","v":1.3514},{"s":"200","d":"2023-11-03","v":1.3535},{"s":"200","d":"2023-11-20","v":1.3551},
{"s":"20","d":"2022-11-06","v":1.3616},{"s":"20","d":"2022-11-10","v":1.3569},{"s":"20","d":"2022-11-15","v":1.3514},{"s":"20","d":"2022-11-20","v":1.3472},{"s":"20","d":"2022-11-25","v":1.3442},{"s":"20","d":"2022-11-30","v":1.3409},{"s":"20","d":"2022-12-04","v":1.3396},{"s":"20","d":"2022-12-08","v":1.3430},{"s":"20","d":"2022-12-11","v":1.3485},{"s":"20","d":"2022-12-16","v":1.3544},{"s":"20","d":"2022-12-21","v":1.3590},{"s":"20","d":"2022-12-27","v":1.3607},{"s":"20","d":"2023-01-01","v":1.3590},{"s":"20","d":"2023-01-06","v":1.3556},{"s":"20","d":"2023-01-11","v":1.3514},{"s":"20","d":"2023-01-16","v":1.3501},{"s":"20","d":"2023-01-24","v":1.3485},{"s":"20","d":"2023-01-29","v":1.3430},{"s":"20","d":"2023-02-03","v":1.3379},{"s":"20","d":"2023-02-08","v":1.3375},{"s":"20","d":"2023-02-12","v":1.3375},{"s":"20","d":"2023-02-17","v":1.3387},{"s":"20","d":"2023-02-23","v":1.3430},{"s":"20","d":"2023-03-02","v":1.3485},{"s":"20","d":"2023-03-09","v":1.3569},{"s":"20","d":"2023-03-16","v":1.3641},{"s":"20","d":"2023-03-23","v":1.3692},{"s":"20","d":"2023-03-28","v":1.3696},{"s":"20","d":"2023-04-01","v":1.3683},{"s":"20","d":"2023-04-07","v":1.3628},{"s":"20","d":"2023-04-12","v":1.3569},{"s":"20","d":"2023-04-17","v":1.3514},{"s":"20","d":"2023-04-22","v":1.3472},{"s":"20","d":"2023-04-28","v":1.3485},{"s":"20","d":"2023-05-03","v":1.3514},{"s":"20","d":"2023-05-08","v":1.3489},{"s":"20","d":"2023-05-13","v":1.3485},{"s":"20","d":"2023-05-20","v":1.3506},{"s":"20","d":"2023-05-28","v":1.3520},{"s":"20","d":"2023-06-06","v":1.3493},{"s":"20","d":"2023-06-13","v":1.3451},{"s":"20","d":"2023-06-21","v":1.3387},{"s":"20","d":"2023-06-27","v":1.3290},{"s":"20","d":"2023-07-05","v":1.3252},{"s":"20","d":"2023-07-11","v":1.3231},{"s":"20","d":"2023-07-18","v":1.3223},{"s":"20","d":"2023-07-26","v":1.3218},{"s":"20","d":"2023-07-31","v":1.3218},{"s":"20","d":"2023-08-05","v":1.3252},{"s":"20","d":"2023-08-10","v":1.3303},{"s":"20","d":"2023-08-15","v":1.3375},{"s":"20","d":"2023-08-22","v":1.3459},{"s":"20","d":"2023-08-29","v":1.3535},{"s":"20","d":"2023-09-05","v":1.3569},{"s":"20","d":"2023-09-12","v":1.3578},{"s":"20","d":"2023-09-18","v":1.3569},{"s":"20","d":"2023-09-26","v":1.3544},{"s":"20","d":"2023-09-29","v":1.3535},{"s":"20","d":"2023-10-02","v":1.3556},{"s":"20","d":"2023-10-09","v":1.3599},{"s":"20","d":"2023-10-17","v":1.3641},{"s":"20","d":"2023-10-23","v":1.3683},{"s":"20","d":"2023-10-28","v":1.3713},{"s":"20","d":"2023-11-03","v":1.3738},{"s":"20","d":"2023-11-09","v":1.3755},{"s":"20","d":"2023-11-17","v":1.3763},{"s":"20","d":"2023-11-20","v":1.3770}
],
"tl": [
{"g":"a","d":"2022-11-05","p":1.3966},{"g":"a","d":"2023-10-21","p":1.3673},
{"g":"b","d":"2022-11-05","p":1.2995},{"g":"b","d":"2023-11-05","p":1.3432},
{"g":"c","d":"2023-02-14","p":1.3653},{"g":"c","d":"2023-06-06","p":1.3661},
{"g":"d","d":"2023-08-01","p":1.3493},{"g":"d","d":"2023-09-19","p":1.3493}
]
},
"spacing": 4,
"vconcat": [
{
"width": 765, "height": 248,
"layer": [
{"data": {"name": "px"}, "transform": [{"filter": "datum.d == '2023-11-20'"}],
 "mark": {"type": "rule", "color": "#5a7fe6", "strokeDash": [1, 2], "strokeWidth": 1},
 "encoding": {"y": {"field": "c", "type": "quantitative", "scale": {"domain": [1.2973, 1.4021], "nice": false, "zero": false},
   "axis": {"orient": "right", "title": null, "values": [1.30, 1.31, 1.32, 1.33, 1.34, 1.35, 1.36, 1.37, 1.38, 1.39, 1.40], "format": ".4f", "labelFontSize": 8.5, "labelColor": "#666", "tickColor": "#888", "domainColor": "#888", "tickSize": 3, "labelPadding": 12, "labelAlign": "center"}}}},
{"data": {"name": "px"}, "mark": {"type": "rule", "color": "#707070", "strokeWidth": 1},
 "encoding": {"x": {"field": "d", "type": "temporal", "scale": {"type": "utc", "domain": [{"year": 2022, "month": 11, "date": 3, "utc": true}, {"year": 2023, "month": 12, "date": 7, "utc": true}]}, "axis": null},
   "y": {"field": "l", "type": "quantitative"}, "y2": {"field": "h"}}},
{"data": {"name": "px"}, "mark": {"type": "bar", "width": 2},
 "encoding": {"x": {"field": "d", "type": "temporal", "axis": null},
   "y": {"field": "o", "type": "quantitative"}, "y2": {"field": "c"},
   "color": {"condition": {"test": "datum.c >= datum.o", "value": "#1fbe55"}, "value": "#f51c1c"}}},
{"data": {"name": "ma"}, "mark": {"type": "line", "interpolate": "monotone"},
 "encoding": {"x": {"field": "d", "type": "temporal", "axis": null},
   "y": {"field": "v", "type": "quantitative"},
   "stroke": {"field": "s", "type": "nominal", "scale": {"domain": ["50", "100", "200", "20"], "range": ["#ffff3c", "#66e84a", "#ee5cee", "#c4c4c4"]},
     "legend": {"orient": "top-left", "title": null, "offset": 9, "padding": 1, "symbolSize": 0, "symbolOpacity": 0, "symbolStrokeWidth": 0, "labelOffset": 0, "labelFontSize": 9.5, "labelColor": "#333", "rowPadding": -4,
       "labelExpr": "datum.label == '50' ? 'MA (50, close, 0)' : datum.label == '100' ? 'MA (100, close, 0)' : datum.label == '200' ? 'MA (200, high, 0)' : 'MA (20, close, 0)'"}},
   "strokeWidth": {"field": "s", "type": "nominal", "scale": {"domain": ["50", "100", "200", "20"], "range": [3, 2, 2, 1.5]}, "legend": null}}},
{"data": {"name": "tl"}, "mark": {"type": "line", "color": "#1414e6", "strokeWidth": 2.5},
 "encoding": {"x": {"field": "d", "type": "temporal", "axis": null}, "y": {"field": "p", "type": "quantitative"}, "detail": {"field": "g"}}},
{"data": {"values": [{}]}, "mark": {"type": "text", "text": "Investing", "align": "left", "baseline": "alphabetic", "fontSize": 12.5, "fontWeight": "bold", "color": "#111"},
 "encoding": {"x": {"datum": {"year": 2022, "month": 11, "date": 9, "hours": 12, "utc": true}, "type": "temporal"}, "y": {"datum": 1.3007, "type": "quantitative"}}},
{"data": {"values": [{}]}, "mark": {"type": "text", "text": ".com", "align": "left", "baseline": "alphabetic", "fontSize": 10, "color": "#555", "dx": 57},
 "encoding": {"x": {"datum": {"year": 2022, "month": 11, "date": 9, "hours": 12, "utc": true}, "type": "temporal"}, "y": {"datum": 1.3007, "type": "quantitative"}}},
{"data": {"values": [{}]}, "mark": {"type": "text", "text": "The 50 SMA pushing the\nlows higher for USD/CAD", "lineBreak": "\n", "lineHeight": 15, "align": "center", "baseline": "alphabetic", "fontSize": 13, "fontWeight": "bold", "color": "#ee1111"},
 "encoding": {"x": {"datum": {"year": 2023, "month": 6, "date": 1, "utc": true}, "type": "temporal"}, "y": {"datum": 1.3056, "type": "quantitative"}}},
{"data": {"name": "ma"}, "transform": [{"filter": "datum.d == '2023-11-20' && datum.s != '100'"}],
 "mark": {"type": "tick", "orient": "horizontal", "size": 29, "thickness": 9.5, "opacity": 1},
 "encoding": {"x": {"datum": {"year": 2023, "month": 12, "date": 14, "utc": true}, "type": "temporal"}, "y": {"field": "v", "type": "quantitative"},
   "fill": {"field": "s", "type": "nominal", "scale": {"domain": ["50", "100", "200", "20"], "range": ["#ffff00", "#00ee00", "#ee00ee", "#b8b8b8"]}, "legend": null}}},
{"data": {"name": "ma"}, "transform": [{"filter": "datum.d == '2023-11-20' && datum.s == '100'"}],
 "mark": {"type": "tick", "orient": "horizontal", "size": 29, "thickness": 9.5, "opacity": 1, "color": "#00ee00", "yOffset": 5},
 "encoding": {"x": {"datum": {"year": 2023, "month": 12, "date": 14, "utc": true}, "type": "temporal"}, "y": {"field": "v", "type": "quantitative"}}},
{"data": {"name": "px"}, "transform": [{"filter": "datum.d == '2023-11-20'"}],
 "mark": {"type": "tick", "orient": "horizontal", "size": 29, "thickness": 9.5, "opacity": 1, "color": "#4a70dd"},
 "encoding": {"x": {"datum": {"year": 2023, "month": 12, "date": 14, "utc": true}, "type": "temporal"}, "y": {"field": "c", "type": "quantitative"}}},
{"data": {"name": "ma"}, "transform": [{"filter": "datum.d == '2023-11-20' && datum.s != '100'"}],
 "mark": {"type": "text", "fontSize": 8.5, "align": "center", "baseline": "middle"},
 "encoding": {"x": {"datum": {"year": 2023, "month": 12, "date": 14, "utc": true}, "type": "temporal"}, "y": {"field": "v", "type": "quantitative"},
   "text": {"field": "v", "type": "quantitative", "format": ".4f"},
   "color": {"condition": {"test": "datum.s == '200'", "value": "white"}, "value": "#111"}}},
{"data": {"name": "ma"}, "transform": [{"filter": "datum.d == '2023-11-20' && datum.s == '100'"}],
 "mark": {"type": "text", "fontSize": 8.5, "align": "center", "baseline": "middle", "color": "#111", "yOffset": 5},
 "encoding": {"x": {"datum": {"year": 2023, "month": 12, "date": 14, "utc": true}, "type": "temporal"}, "y": {"field": "v", "type": "quantitative"},
   "text": {"field": "v", "type": "quantitative", "format": ".4f"}}},
{"data": {"name": "px"}, "transform": [{"filter": "datum.d == '2023-11-20'"}],
 "mark": {"type": "text", "fontSize": 8.5, "align": "center", "baseline": "middle", "color": "white"},
 "encoding": {"x": {"datum": {"year": 2023, "month": 12, "date": 14, "utc": true}, "type": "temporal"}, "y": {"field": "c", "type": "quantitative"},
   "text": {"field": "c", "type": "quantitative", "format": ".4f"}}}
]
},
{
"width": 765, "height": 78,
"layer": [
{"data": {"values": [{"lo": 20, "hi": 80}]}, "mark": {"type": "rect", "color": "#dcc0dc"},
 "encoding": {"x": {"datum": {"year": 2022, "month": 11, "date": 5, "hours": 12, "utc": true}, "type": "temporal",
     "scale": {"type": "utc", "domain": [{"year": 2022, "month": 11, "date": 3, "utc": true}, {"year": 2023, "month": 12, "date": 7, "utc": true}]},
     "axis": {"title": null, "values": [{"year": 2022, "month": 12, "date": 1, "utc": true}, {"year": 2023, "month": 1, "date": 1, "utc": true}, {"year": 2023, "month": 2, "date": 1, "utc": true}, {"year": 2023, "month": 3, "date": 1, "utc": true}, {"year": 2023, "month": 4, "date": 1, "utc": true}, {"year": 2023, "month": 5, "date": 1, "utc": true}, {"year": 2023, "month": 6, "date": 1, "utc": true}, {"year": 2023, "month": 7, "date": 1, "utc": true}, {"year": 2023, "month": 8, "date": 1, "utc": true}, {"year": 2023, "month": 9, "date": 1, "utc": true}, {"year": 2023, "month": 10, "date": 1, "utc": true}, {"year": 2023, "month": 11, "date": 1, "utc": true}, {"year": 2023, "month": 12, "date": 1, "utc": true}],
       "labelExpr": "utcmonth(datum.value) == 0 ? utcFormat(datum.value, '%Y') : utcFormat(datum.value, '%b')", "labelFontSize": 9, "labelColor": "#555", "tickColor": "#888", "domainColor": "#888", "tickSize": 3, "labelPadding": 2, "labelFlush": false}},
   "x2": {"datum": {"year": 2023, "month": 12, "date": 7, "utc": true}},
   "y": {"field": "lo", "type": "quantitative", "scale": {"domain": [-6.4, 109.2], "nice": false, "zero": false},
     "axis": {"orient": "right", "title": null, "values": [0, 80], "format": ".4f", "labelFontSize": 8.5, "labelColor": "#666", "tickColor": "#888", "domainColor": "#888", "tickSize": 3, "labelPadding": 13, "labelAlign": "center"}},
   "y2": {"field": "hi"}}},
{"data": {"values": [{"lv": 20}, {"lv": 80}]}, "mark": {"type": "rule", "color": "#7a7a7a", "strokeDash": [5, 3], "strokeWidth": 1},
 "encoding": {"x": {"datum": {"year": 2022, "month": 11, "date": 5, "hours": 12, "utc": true}, "type": "temporal"}, "x2": {"datum": {"year": 2023, "month": 12, "date": 7, "utc": true}}, "y": {"field": "lv", "type": "quantitative"}}},
{"data": {"name": "px"}, "mark": {"type": "line", "color": "#5a5aff", "strokeWidth": 1, "opacity": 0.85},
 "encoding": {"x": {"field": "d", "type": "temporal"}, "y": {"field": "k", "type": "quantitative"}}},
{"data": {"name": "px"}, "mark": {"type": "line", "color": "#ff4a4a", "strokeWidth": 1, "opacity": 0.85},
 "encoding": {"x": {"field": "d", "type": "temporal"}, "y": {"field": "s", "type": "quantitative"}}},
{"data": {"values": [{}]}, "mark": {"type": "text", "text": "Stoch (14, 1, 3)", "align": "left", "baseline": "middle", "fontSize": 9.5, "color": "#222"},
 "encoding": {"x": {"datum": {"year": 2022, "month": 11, "date": 9, "utc": true}, "type": "temporal"}, "y": {"datum": 97.3, "type": "quantitative"}}},
{"data": {"name": "px"}, "transform": [{"filter": "datum.d == '2023-11-20'"}],
 "mark": {"type": "tick", "orient": "horizontal", "size": 31, "thickness": 9.5, "opacity": 1, "color": "#ff1a1a", "yOffset": -8},
 "encoding": {"x": {"datum": {"year": 2023, "month": 12, "date": 15, "utc": true}, "type": "temporal"}, "y": {"field": "s", "type": "quantitative"}}},
{"data": {"name": "px"}, "transform": [{"filter": "datum.d == '2023-11-20'"}],
 "mark": {"type": "tick", "orient": "horizontal", "size": 31, "thickness": 9.5, "opacity": 1, "color": "#1a1aff"},
 "encoding": {"x": {"datum": {"year": 2023, "month": 12, "date": 15, "utc": true}, "type": "temporal"}, "y": {"field": "k", "type": "quantitative"}}},
{"data": {"name": "px"}, "transform": [{"filter": "datum.d == '2023-11-20'"}],
 "mark": {"type": "text", "fontSize": 8.5, "align": "center", "baseline": "middle", "color": "white", "yOffset": -8},
 "encoding": {"x": {"datum": {"year": 2023, "month": 12, "date": 15, "utc": true}, "type": "temporal"}, "y": {"field": "s", "type": "quantitative"}, "text": {"field": "s", "type": "quantitative", "format": ".4f"}}},
{"data": {"name": "px"}, "transform": [{"filter": "datum.d == '2023-11-20'"}],
 "mark": {"type": "text", "fontSize": 8.5, "align": "center", "baseline": "middle", "color": "white"},
 "encoding": {"x": {"datum": {"year": 2023, "month": 12, "date": 15, "utc": true}, "type": "temporal"}, "y": {"field": "k", "type": "quantitative"}, "text": {"field": "k", "type": "quantitative", "format": ".4f"}}}
]
}
]
}
